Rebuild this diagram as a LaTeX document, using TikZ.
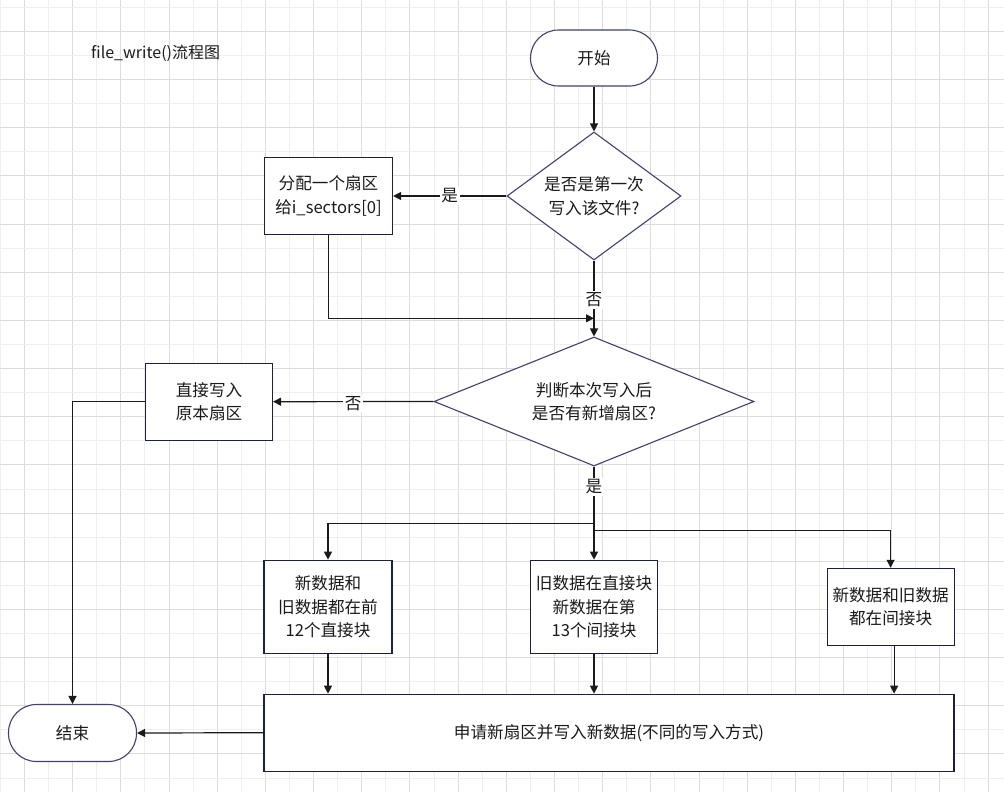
\documentclass[tikz,border=0pt]{standalone}
\usepackage{fontspec}
\setmainfont{Noto Sans CJK SC}
\usetikzlibrary{shapes.geometric,arrows.meta,calc}
\definecolor{gridlight}{HTML}{EFEFEF}
\definecolor{griddark}{HTML}{DCDCDC}
\definecolor{boxline}{HTML}{1C1F45}
\definecolor{diamline}{HTML}{3E4270}
\definecolor{linecol}{HTML}{1A1A1A}
\definecolor{txtcol}{HTML}{1A1A1A}
\tikzset{
  every node/.style={font=\fontsize{16.6}{23.5}\selectfont, text=txtcol},
  procbox/.style={draw=boxline, line width=1.1pt, fill=white, rectangle, inner sep=0pt, align=center},
  termbox/.style={draw=diamline, line width=1.1pt, fill=white, rectangle, rounded corners=28pt, inner sep=0pt, align=center},
  decision/.style={draw=diamline, line width=1.1pt, fill=white, diamond, inner sep=0pt, align=center},
  conn/.style={draw=linecol, line width=1.2pt, -{Triangle[length=8pt,width=8pt]}},
  lbl/.style={fill=white, inner sep=1.5pt}
}
\begin{document}
\begin{tikzpicture}[x=1pt,y=-1pt]
\useasboundingbox (0,0) rectangle (1004,792);
\fill[white] (0,0) rectangle (1004,792);
% grid
\foreach \n in {0,...,41}{
  \pgfmathsetmacro{\xx}{0.4+24.09*\n}
  \ifodd\n
    \draw[griddark, line width=1pt] (\xx,0) -- (\xx,792);
  \else
    \draw[gridlight, line width=1pt] (\xx,0) -- (\xx,792);
  \fi
}
\foreach \m in {0,...,32}{
  \pgfmathsetmacro{\yy}{7.2+24.09*\m}
  \ifodd\m
    \draw[griddark, line width=1pt] (0,\yy) -- (1004,\yy);
  \else
    \draw[gridlight, line width=1pt] (0,\yy) -- (1004,\yy);
  \fi
}

% title
\node[anchor=west, inner sep=0pt, font=\fontsize{16}{20}\selectfont] (title) at (91,53) {file\_write()流程图};

% nodes
\node[termbox, minimum width=127pt, minimum height=56pt] (start) at (594,58) {开始};
\node[decision, minimum width=174pt, minimum height=128pt, shape aspect=1.36] (d1) at (594,196) {是否是第一次\\写入该文件?};
\node[procbox, minimum width=128pt, minimum height=77pt] (b1) at (328.5,196) {分配一个扇区\\给i\_sectors[0]};
\node[decision, minimum width=320pt, minimum height=129pt, shape aspect=2.48] (d2) at (594,401.5) {判断本次写入后\\是否有新增扇区?};
\node[procbox, minimum width=127pt, minimum height=77pt] (b2) at (209,401.7) {直接写入\\原本扇区};
\node[procbox, minimum width=128pt, minimum height=93pt] (bA) at (328,606.7) {新数据和\\旧数据都在前\\12个直接块};
\node[procbox, minimum width=127pt, minimum height=93pt] (bB) at (594,606.7) {旧数据在直接块\\新数据在第\\13个间接块};
\node[procbox, minimum width=127pt, minimum height=77pt] (bC) at (890.6,606.8) {新数据和旧数据\\都在间接块};
\node[procbox, minimum width=690pt, minimum height=77pt] (big) at (609,732.7) {申请新扇区并写入新数据(不同的写入方式)};
\node[termbox, minimum width=128pt, minimum height=57pt] (end) at (72.5,733) {结束};

% junction coordinates
\coordinate (j1) at (594,318.3);
\coordinate (s1) at (594,523.3);
\coordinate (s2) at (594,530.3);

% connectors
\draw[conn] (start.south) -- (d1.north);
\draw[conn] (d1.west) -- node[lbl, pos=0.5] {是} (b1.east);
\draw[conn] (d1.south) -- node[lbl, pos=0.52] {否} (d2.north);
\draw[conn] (b1.south) |- (j1);
\draw[conn] (d2.west) -- node[lbl, pos=0.5, yshift=-2pt] {否} (b2.east);
\draw[conn] (b2.west) -| (end.north);
\draw[conn] (d2.south) -- node[lbl, pos=0.22] {是} (bB.north);
\draw[conn] (s1) -| (bA.north);
\draw[conn] (s2) -| (bC.north);
\draw[conn] (bA.south) -- (bA.south |- big.north);
\draw[conn] (bB.south) -- (bB.south |- big.north);
\draw[conn] ($(bC.south)+(3.5,0)$) -- ($(bC.south |- big.north)+(3.5,0)$);
\draw[conn] (big.west) -- (end.east);
\end{tikzpicture}
\end{document}
